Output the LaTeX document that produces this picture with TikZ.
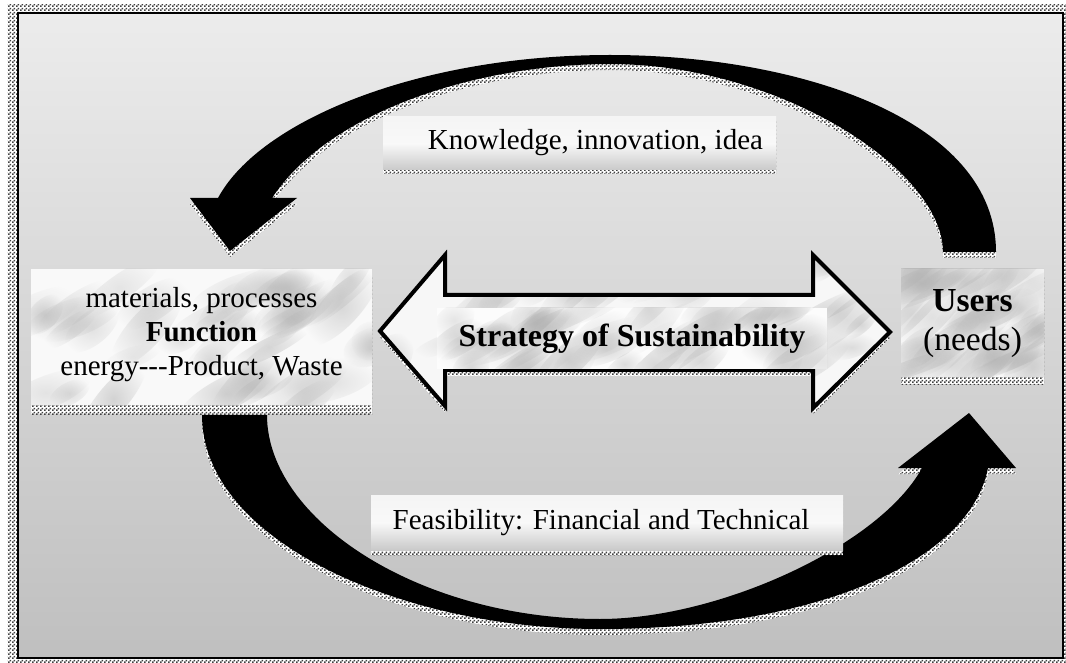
\documentclass[tikz,border=0pt]{standalone}
\usepackage{fontspec}
\setmainfont{Liberation Serif}
\usetikzlibrary{patterns.meta,fadings}

\tikzdeclarepattern{
  name=chk,
  type=uncolored,
  bounding box={(0pt,0pt) and (2pt,2pt)},
  tile size={(2pt,2pt)},
  code={
    \fill (0pt,0pt) rectangle (1pt,1pt);
    \fill (1pt,1pt) rectangle (2pt,2pt);
  }
}

\tikzfading[name=softblob, inner color=transparent!0, outer color=transparent!100]

\tikzset{
  shadowfill/.style={fill=white, postaction={pattern=chk, pattern color=black!75}},
  blockarrow/.style={fill=black},
  gradbox/.style={shade, top color=gray!8, bottom color=gray!42, middle color=gray!5, inner sep=0pt},
  plainbox/.style={inner sep=0pt},
  txt/.style={align=center, inner sep=0pt},
}

\newcommand\marbleblobs[5]{%
  \pgfmathsetseed{#5}%
  \foreach \k in {1,...,45}{%
    \pgfmathsetmacro\bx{#1+rnd*(#3-#1)}%
    \pgfmathsetmacro\by{#2+rnd*(#4-#2)}%
    \pgfmathsetmacro\ba{20+rnd*40}%
    \pgfmathsetmacro\bb{8+rnd*12}%
    \pgfmathsetmacro\br{15+rnd*35}%
    \pgfmathsetmacro\bo{0.15+rnd*0.35}%
    \fill[gray!65, opacity=\bo, path fading=softblob,
      rotate around={\br:(\bx,\by)}] (\bx,\by) ellipse ({\ba} and {\bb});
  }%
}

\def\toparrowpath{(996,252) .. controls (996,120) and (800,55) .. (610,55)
  .. controls (420,55) and (260,120) .. (218,198) -- (190,198) -- (230,251)
  -- (297,198) -- (272,198) .. controls (330,110) and (480,64) .. (610,64)
  .. controls (780,64) and (943,170) .. (943,252) -- cycle}

\def\botarrowpath{(202,415) .. controls (202,540) and (400,629) .. (600,629)
  .. controls (820,629) and (970,560) .. (988,468) -- (1016,468) -- (969,413)
  -- (898,468) -- (922,468) .. controls (880,545) and (720,619) .. (600,619)
  .. controls (420,619) and (267,520) .. (267,415) -- cycle}

\def\dblpath{(380,331) -- (445,255) -- (445,295) -- (813,295) -- (813,255)
  -- (890,332) -- (813,408) -- (813,370) -- (445,370) -- (445,406) -- cycle}

\begin{document}
\begin{tikzpicture}[x=0.5pt, y=-0.5pt]
\useasboundingbox (0,0) rectangle (1066,663);
\clip (0,0) rectangle (1066,663);

% page and frame
\fill[white] (0,0) rectangle (1066,663);
\path[shadowfill] (7,5) rectangle (1080,680);
\shade[top color=gray!15, bottom color=gray!50] (18,13) rectangle (1063,658);
\draw[line width=1pt] (18,13) rectangle (1063,658);

% curved arrows
\path[shadowfill, yshift=-3pt] \toparrowpath;
\path[blockarrow] \toparrowpath;
\path[shadowfill, yshift=-3pt] \botarrowpath;
\path[blockarrow] \botarrowpath;

% double arrow
\path[shadowfill, yshift=-3pt] \dblpath;
\begin{scope}
  \clip \dblpath;
  \fill[gray!6] (370,250) rectangle (900,415);
  \marbleblobs{380}{255}{890}{408}{11}
\end{scope}
\draw[line width=2pt, line join=miter] \dblpath;

% label inside double arrow
\begin{scope}
  \clip (437,308) rectangle (827,369);
  \fill[gray!2] (437,308) rectangle (827,369);
  \marbleblobs{437}{308}{827}{369}{5}
\end{scope}
\node[txt, font=\fontsize{16}{19}\selectfont\bfseries] (strategy) at (632,338.5) {Strategy of Sustainability};

% left box
\path[shadowfill] (31,278) rectangle (372,414);
\begin{scope}
  \clip (31,269) rectangle (372,405);
  \fill[gray!5] (31,269) rectangle (372,405);
  \marbleblobs{31}{269}{372}{405}{21}
\end{scope}
\node[plainbox, minimum width=170.5pt, minimum height=68pt] (funcbox) at (201.5,337) {};
\node[txt, font=\fontsize{14.5}{17}\selectfont] (func) at (201.5,335)
  {materials, processes\\\textbf{Function}\\energy-{}-{}-Product, Waste};

% users box
\path[shadowfill] (901,276) rectangle (1044,384);
\begin{scope}
  \clip (901,269) rectangle (1044,377);
  \fill[gray!5] (901,269) rectangle (1044,377);
  \marbleblobs{901}{269}{1044}{377}{33}
\end{scope}
\node[plainbox, minimum width=71.5pt, minimum height=54pt] (usersbox) at (972.5,323) {};
\node[txt, font=\fontsize{16.8}{19.5}\selectfont] (users) at (972.5,324)
  {\textbf{Users}\\(needs)};

% knowledge box
\path[shadowfill] (383,121) rectangle (776,174);
\node[gradbox, minimum width=196.5pt, minimum height=26.5pt] (kbox) at (579.5,143.5) {};
\node[txt, font=\fontsize{14.5}{17}\selectfont] (ktext) at (595.5,143) {Knowledge, innovation, idea};

% feasibility box
\path[shadowfill] (371,500) rectangle (843,555);
\node[gradbox, minimum width=236pt, minimum height=27.5pt] (fbox) at (607,522.5) {};
\node[txt, font=\fontsize{14.5}{17}\selectfont] (ftext) at (601,523) {Feasibility: Financial and Technical};

\end{tikzpicture}
\end{document}
